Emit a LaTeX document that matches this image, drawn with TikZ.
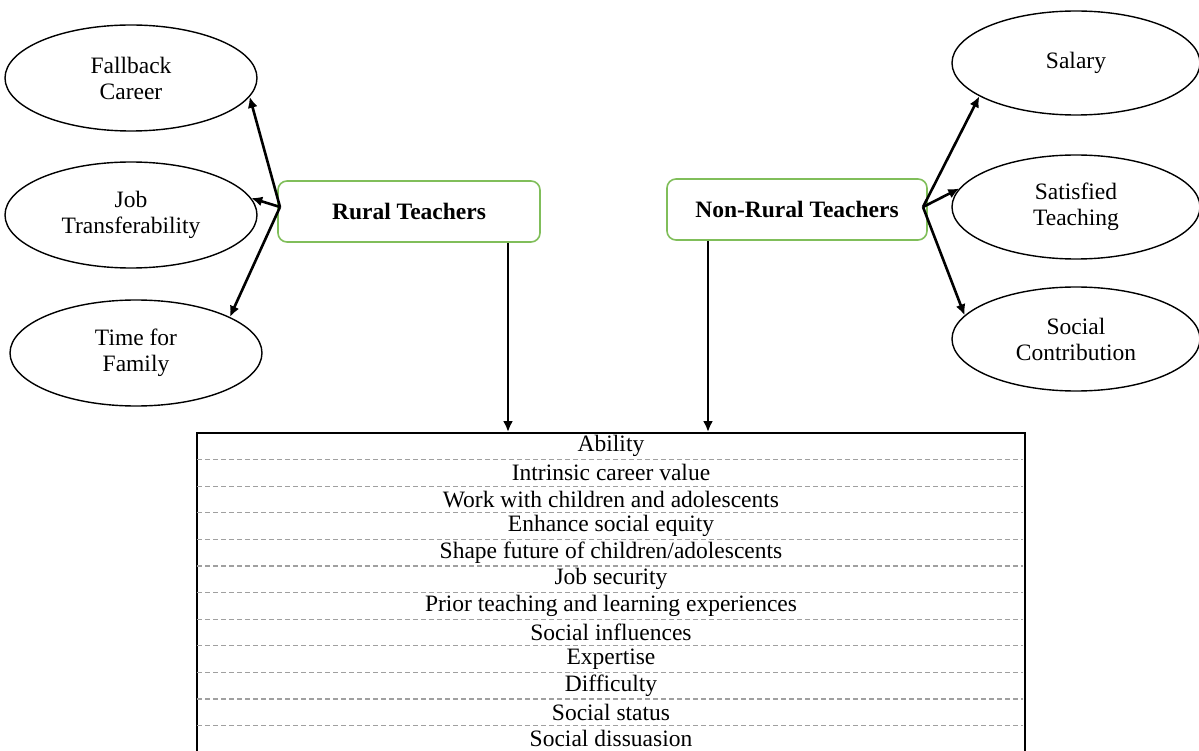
\documentclass[tikz,border=0pt]{standalone}
\usepackage{fontspec}
\setmainfont{Liberation Serif}
\usetikzlibrary{arrows.meta, shapes.geometric}
\definecolor{boxgreen}{RGB}{128,190,90}
\definecolor{dashgray}{RGB}{160,160,160}
\begin{document}
\begin{tikzpicture}[x=1pt,y=-1pt,
  every node/.style={font=\fontsize{23.5}{26}\selectfont},
  oval/.style={ellipse, draw, line width=1.4pt, minimum width=252pt, minimum height=106pt, inner sep=0pt, align=center},
  rightoval/.style={oval, minimum width=248pt, minimum height=104pt},
  teacher/.style={draw=boxgreen, line width=1.6pt, rounded corners=9pt, minimum width=262pt, minimum height=61pt, font=\fontsize{23.5}{26}\selectfont\bfseries},
  arr/.style={line width=2.6pt, -{Latex[length=11pt,width=10pt]}},
  rowtext/.style={inner sep=0pt},
  rowline/.style={dashgray, dash pattern=on 5pt off 3pt, line width=1.3pt},
  tablebox/.style={draw, line width=2pt, minimum width=828pt, minimum height=330pt, anchor=north west, inner sep=0pt}
]
\useasboundingbox (0,0) rectangle (1199,751);
\clip (0,0) rectangle (1199,751);

% left ellipses
\node[oval] (fallback) at (131,78) {Fallback\\Career};
\node[oval] (job) at (131,215) {Job\\Transferability};
\node[oval] (time) at (136,353) {Time for\\Family};

% right ellipses
\node[rightoval] (salary) at (1076,63) {Salary};
\node[rightoval] (satisfied) at (1076,207) {Satisfied\\Teaching};
\node[rightoval] (contrib) at (1076,339) {Social\\Contribution};

% teacher boxes
\node[teacher] (rural) at (409,211.5) {Rural Teachers};
\node[teacher, minimum width=260pt] (nonrural) at (797,209.5) {Non-Rural Teachers};

% branch points
\coordinate (rl) at (280,207);
\coordinate (nr) at (923,207);

\draw[arr] (rl) -- (fallback.-9);
\draw[arr] (rl) -- (job.8);
\draw[arr] (rl) -- (time.21);
\draw[arr] (nr) -- (salary.-161);
\draw[arr] (nr) -- (satisfied.171);
\draw[arr] (nr) -- (contrib.168);

% table
\node[tablebox] (table) at (196,432) {};
\foreach \k in {0,...,10}{
  \draw[rowline] (table.north west) ++(1,27.6+26.6*\k) -- ++(826,0);
}
\foreach \t [count=\k from 0] in {Ability, Intrinsic career value, Work with children and adolescents, Enhance social equity, {Shape future of children/adolescents}, Job security, Prior teaching and learning experiences, Social influences, Expertise, Difficulty, Social status, Social dissuasion}{
  \path (table.north) ++(0,14+26.6*\k) node[rowtext] (row\k) {\t};
}

% vertical arrows
\draw[arr] ([xshift=99pt]rural.south) -- ([xshift=99pt]rural.south |- table.north);
\draw[arr] ([xshift=-89pt]nonrural.south) -- ([xshift=-89pt]nonrural.south |- table.north);
\end{tikzpicture}
\end{document}
